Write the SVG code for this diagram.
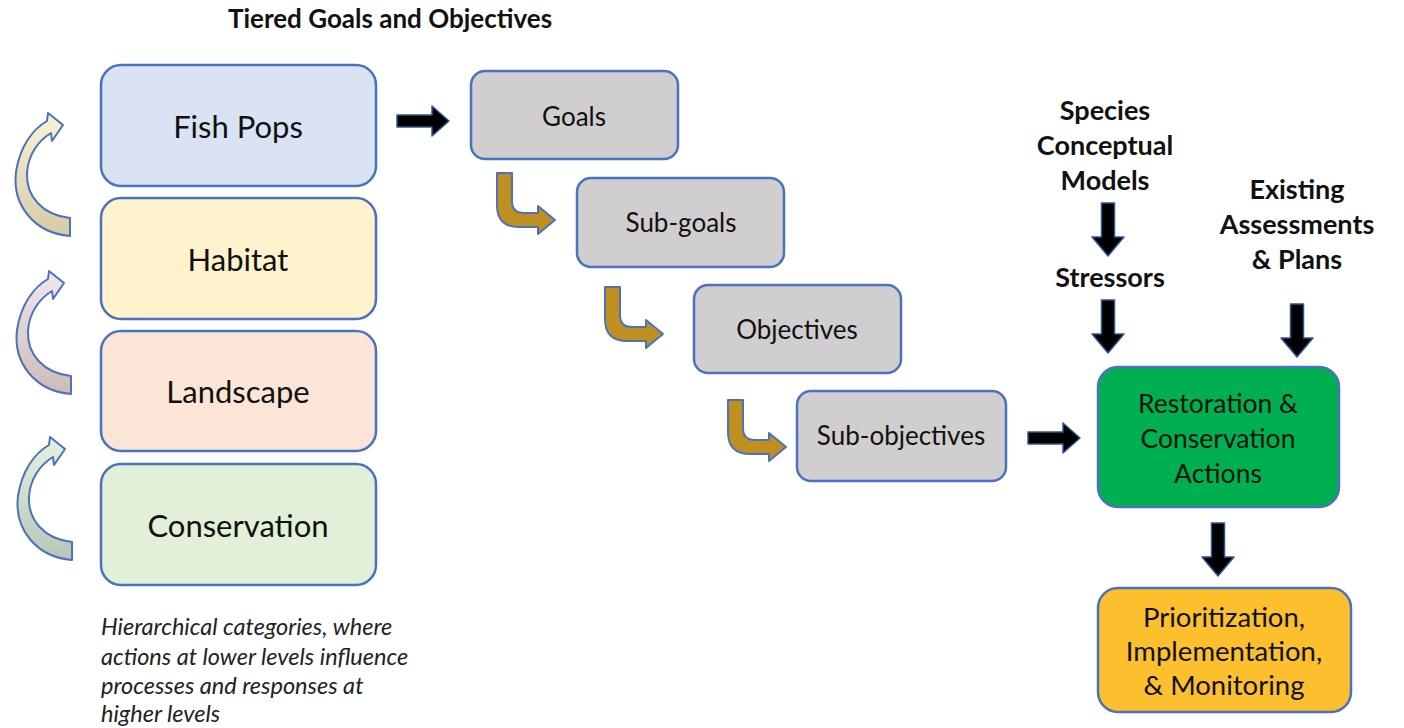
<svg xmlns="http://www.w3.org/2000/svg" width="1404" height="728" viewBox="0 0 1404 728">
<style>
.box{stroke:#4a72c0;stroke-width:2.5}
.t{font-family:Lato,"Liberation Sans",sans-serif;fill:#111;text-anchor:middle}
.lvl{font-size:31px}
.goal{font-size:26px}
.bold{font-weight:bold;font-size:27px}
.cap{font-family:Lato,"Liberation Sans",sans-serif;font-style:italic;font-size:23.5px;fill:#222}
.blk{fill:#000;stroke:#2f5597;stroke-width:1.5;stroke-linejoin:round}
.gold{fill:#bf9020;stroke:#4a72c0;stroke-width:2;stroke-linejoin:round}
.curve{stroke:#4a72c0;stroke-width:2;stroke-linejoin:round}
</style>
<defs>
<path id="down" d="M -6.5 0 H 6.5 V 34 H 16 L 0 53 L -16 34 H -6.5 Z"/>
<path id="right" d="M 0 -6 H 35 V -15 L 52 0 L 35 15 V 6 H 0 Z"/>
<path id="bent" d="M 0 0 H 15 V 28 Q 15 40 27 40 H 41 V 33 L 58 47 L 41 61 V 54 H 22 Q 0 54 0 32 Z"/>
<path id="curl" d="M 70 236 C 34 233 12 205 16 172 C 20 146 33 129 47 121 L 48 113 L 63 125 L 52 141 L 51 133 C 38 141 28 155 27 173 C 26 196 42 215 70 218 Z"/>
<linearGradient id="g1" x1="0" y1="0" x2="0" y2="1"><stop offset="0" stop-color="#fbf3d6"/><stop offset="1" stop-color="#d5cba6"/></linearGradient>
<linearGradient id="g2" x1="0" y1="0" x2="0" y2="1"><stop offset="0" stop-color="#f3e6ee"/><stop offset="1" stop-color="#cdbcb4"/></linearGradient>
<linearGradient id="g3" x1="0" y1="0" x2="0" y2="1"><stop offset="0" stop-color="#e6f1e0"/><stop offset="1" stop-color="#b6c7b8"/></linearGradient>
</defs>

<text x="390" y="28" class="t" style="font-weight:bold;font-size:26px">Tiered Goals and Objectives</text>

<g id="fish-pops"><rect class="box" x="101" y="65" width="275" height="121" rx="20" fill="#dae3f3"/><text class="t lvl" x="238" y="138">Fish Pops</text></g>
<g id="habitat"><rect class="box" x="101" y="198" width="275" height="121" rx="20" fill="#fff2cc"/><text class="t lvl" x="238" y="271">Habitat</text></g>
<g id="landscape"><rect class="box" x="101" y="331" width="275" height="120" rx="20" fill="#fbe5d6"/><text class="t lvl" x="238" y="403">Landscape</text></g>
<g id="conservation"><rect class="box" x="101" y="464" width="275" height="121" rx="20" fill="#e2f0d9"/><text class="t lvl" x="238" y="537">Conservation</text></g>

<g id="goals"><rect class="box" x="471" y="71" width="207" height="88" rx="14" fill="#d0cece"/><text class="t goal" x="574" y="126">Goals</text></g>
<g id="sub-goals"><rect class="box" x="577" y="178" width="207" height="89" rx="14" fill="#d0cece"/><text class="t goal" x="681" y="232">Sub-goals</text></g>
<g id="objectives"><rect class="box" x="694" y="285" width="207" height="88" rx="14" fill="#d0cece"/><text class="t goal" x="797" y="339">Objectives</text></g>
<g id="sub-objectives"><rect class="box" x="797" y="391" width="209" height="90" rx="14" fill="#d0cece"/><text class="t goal" x="901" y="445">Sub-objectives</text></g>

<g id="restoration"><rect class="box" x="1098" y="367" width="241" height="140" rx="20" fill="#00b050"/>
<text class="t" style="font-size:26.5px" x="1218" y="413">Restoration &amp;</text>
<text class="t" style="font-size:26.5px" x="1218" y="448">Conservation</text>
<text class="t" style="font-size:26.5px" x="1218" y="483">Actions</text></g>

<g id="prioritization"><rect class="box" x="1098" y="588" width="253" height="124" rx="20" fill="#fcbf2e"/>
<text class="t" style="font-size:27.5px" x="1224" y="627">Prioritization,</text>
<text class="t" style="font-size:27.5px" x="1224" y="661">Implementation,</text>
<text class="t" style="font-size:27.5px" x="1224" y="695">&amp; Monitoring</text></g>

<g id="species-models"><text class="t bold" x="1105" y="120">Species</text><text class="t bold" x="1105" y="155">Conceptual</text><text class="t bold" x="1105" y="190">Models</text></g>
<g id="stressors"><text class="t bold" x="1110" y="287">Stressors</text></g>
<g id="existing"><text class="t bold" x="1297" y="199">Existing</text><text class="t bold" x="1297" y="234">Assessments</text><text class="t bold" x="1297" y="269">&amp; Plans</text></g>

<g id="caption">
<text class="cap" x="101" y="635">Hierarchical categories, where</text>
<text class="cap" x="101" y="665">actions at lower levels influence</text>
<text class="cap" x="101" y="694">processes and responses at</text>
<text class="cap" x="101" y="722">higher levels</text>
</g>

<g id="connectors">
<use href="#curl" class="curve" fill="url(#g1)"/>
<use href="#curl" class="curve" fill="url(#g2)" transform="translate(1,158)"/>
<use href="#curl" class="curve" fill="url(#g3)" transform="translate(2,324)"/>
<use href="#right" class="blk" transform="translate(397,121)"/>
<use href="#right" class="blk" transform="translate(1028,438)"/>
<use href="#bent" class="gold" transform="translate(497,173)"/>
<use href="#bent" class="gold" transform="translate(605,287)"/>
<use href="#bent" class="gold" transform="translate(728,400)"/>
<use href="#down" class="blk" transform="translate(1108,203)"/>
<use href="#down" class="blk" transform="translate(1108,300)"/>
<use href="#down" class="blk" transform="translate(1297,304)"/>
<use href="#down" class="blk" transform="translate(1218,523)"/>
</g>
</svg>
